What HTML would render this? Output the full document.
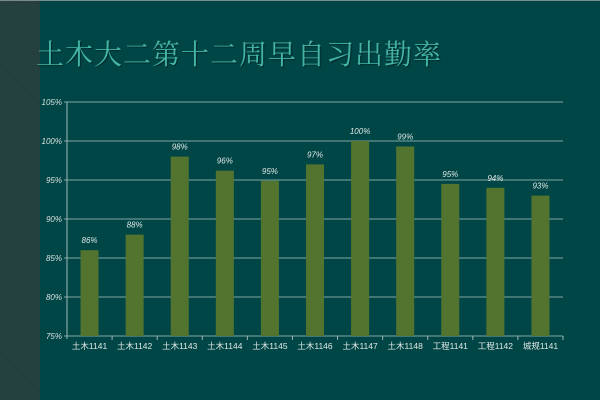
<!DOCTYPE html>
<html><head><meta charset="utf-8"><style>
body{margin:0;width:600px;height:400px;overflow:hidden;background:#014646;font-family:"Liberation Sans","Noto Sans CJK SC",sans-serif}
#strip{position:absolute;left:0;top:0;width:40px;height:400px;background:repeating-linear-gradient(45deg,#294644 0 1px,#1f3a39 1px 2px)}
#topline{position:absolute;left:0;top:0;width:600px;height:1px;background:#7a8c8a}
#title{position:absolute;left:36px;top:33px;font-size:28px;color:#45b5a6;letter-spacing:1px;text-shadow:1px 1px 1px #002a2a;font-family:"Liberation Serif","Noto Serif CJK SC",serif}
</style></head><body>
<div id="strip"></div>
<div id="topline"></div>
<div id="title">土木大二第十二周早自习出勤率</div>
<svg id="chart" width="600" height="400" style="position:absolute;left:0;top:0"></svg>
<script>
const categories=["土木1141","土木1142","土木1143","土木1144","土木1145","土木1146","土木1147","土木1148","工程1141","工程1142","城规1141"];
const values=[86,88,98,96.2,94.9,97,100,99.3,94.5,94,93];
const valueLabels=["86%","88%","98%","96%","95%","97%","100%","99%","95%","94%","93%"];
const yTicks=[75,80,85,90,95,100,105];
const NS="http://www.w3.org/2000/svg";
const svg=document.getElementById('chart');
const x0=67,x1=563,yTop=102,yBot=336,ymin=75,ymax=105;
const y=v=>yBot-(v-ymin)/(ymax-ymin)*(yBot-yTop);
const band=(x1-x0)/categories.length;
const xc=i=>x0+band*(i+0.5);
function mk(t,a){const e=document.createElementNS(NS,t);for(const k in a)e.setAttribute(k,a[k]);svg.appendChild(e);return e;}
yTicks.forEach(t=>{
 const g=mk('line',{x1:x0-3,x2:x1,y1:y(t),y2:y(t),stroke:'#7fa5a0','stroke-width':1});
 
 
 const l=mk('text',{x:x0-5,y:y(t)+3,'text-anchor':'end','font-size':8,fill:'#d8e0de','font-style':'italic'});
 l.textContent=t+'%';
 
 
});
const ax=mk('line',{x1:x0,x2:x0,y1:yTop,y2:yBot+3,stroke:'#9fbab6'});


categories.forEach((c,i)=>{
 const b=mk('rect',{x:xc(i)-9,y:y(values[i]),width:18,height:yBot-y(values[i]),fill:'#53742f'});
 
 
 const v=mk('text',{x:xc(i),y:y(values[i])-7,'text-anchor':'middle','font-size':8,fill:'#e0e8e6','font-style':'italic'});
 v.textContent=valueLabels[i];
 
 
 const t=mk('text',{x:xc(i),y:yBot+13,'text-anchor':'middle','font-size':8.5,fill:'#e0e8e6'});
 t.textContent=c;
 
 
 const tk=mk('line',{x1:x0+band*(i+1),x2:x0+band*(i+1),y1:yBot,y2:yBot+4,stroke:'#9fbab6'});
 
 
});
</script>
</body></html>
